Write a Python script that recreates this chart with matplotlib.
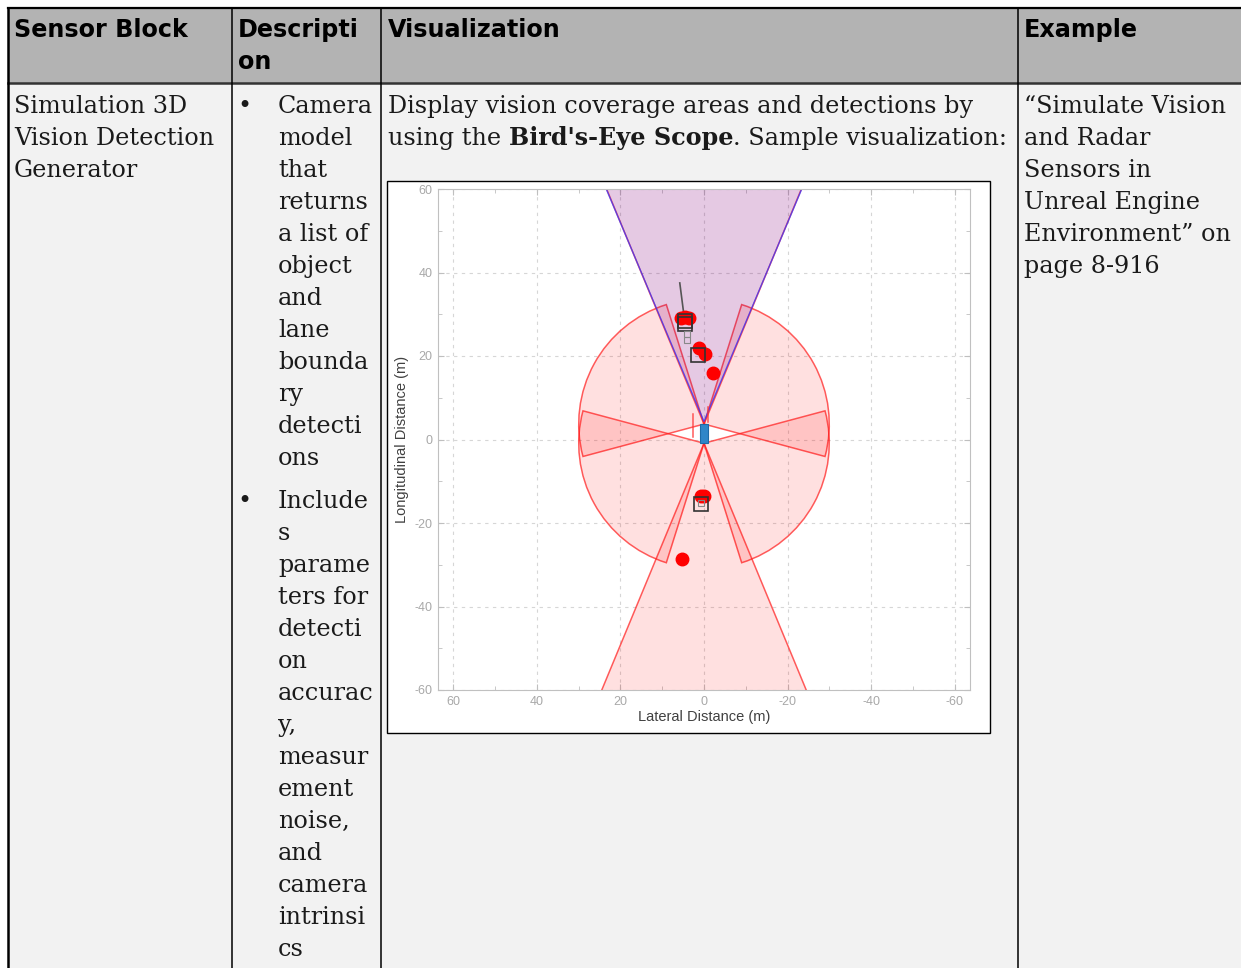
import matplotlib.pyplot as plt
from matplotlib.patches import Rectangle, Wedge

plt.rcParams['axes.unicode_minus'] = False

W, H = 1241, 968

# table texts
headers = ["Sensor Block", "Descripti\non", "Visualization", "Example"]
block_lines = ["Simulation 3D", "Vision Detection", "Generator"]
bullet1 = ["Camera", "model", "that", "returns", "a list of", "object", "and", "lane",
           "bounda", "ry", "detecti", "ons"]
bullet2 = ["Include", "s", "parame", "ters for", "detecti", "on", "accurac", "y,",
           "measur", "ement", "noise,", "and", "camera", "intrinsi", "cs"]
vis_line1 = "Display vision coverage areas and detections by"
vis_line2 = ["using the", "Bird's-Eye Scope", ". Sample visualization:"]
example_lines = ["\u201cSimulate Vision", "and Radar", "Sensors in", "Unreal Engine",
                 "Environment\u201d on", "page 8-916"]

# bird's-eye coverage areas (x = lateral, + to the left; y = longitudinal)
radar_x = [0, 0, 0, 0, 0, 0]
radar_y = [3.7, 3.7, -0.9, -0.9, 3.7, -0.9]
radar_range = [30, 30, 30, 30, 150, 150]
radar_start = [-15, 107.5, -72.5, 165, 67.5, 247.5]
radar_end = [72.5, 195, 15, 252.5, 112.5, 292.5]
cam_pos = (0, 4.3)
cam_range = 150
cam_fov = (67.2, 112.8)

# detections and objects
det_x = [5.6, 4.6, 3.5, 1.2, -0.3, -2.1, 0.6, -0.1, 5.3]
det_y = [29.1, 29.3, 29.1, 21.8, 20.4, 15.9, -13.6, -13.6, -28.6]
obj_x = [4.6, 4.6, 1.4, 0.6]
obj_y = [28.4, 27.6, 20.3, -15.5]
trail_x = [4.0, 4.0, 0.6]
trail_y = [25.2, 23.9, -15.1]
heading_x = [5.8, 4.6]
heading_y = [37.5, 28.2]
marks_x = [[2.6, 2.6], [-1.0, -1.0]]
marks_y = [[6.0, 0.5], [7.7, 4.1]]
car = (-0.9, -0.9, 1.8, 4.7)  # x, y, width, length

fig = plt.figure(figsize=(W / 100, H / 100), dpi=100)
bg = fig.add_axes([0, 0, 1, 1])
bg.set_xlim(0, W)
bg.set_ylim(H, 0)
bg.axis('off')

# table
bg.add_patch(Rectangle((8, 8), W - 8, 75, fc='#b3b3b3', ec='none'))
bg.add_patch(Rectangle((8, 83), W - 8, H - 83, fc='#f2f2f2', ec='none'))
bg.plot([8, W], [8, 8], color='black', lw=1.6)
bg.plot([8, W], [83, 83], color='#333333', lw=1.8)
bg.plot([8, 8], [8, H], color='black', lw=1.8)
for cx in [232, 381, 1018]:
    bg.plot([cx, cx], [8, H], color='black', lw=1.1)

hfont = dict(family='DejaVu Sans', fontweight='bold', fontsize=17.2, color='black', va='baseline')
bg.text(14, 37, headers[0], **hfont)
bg.text(238, 37, headers[1].split('\n')[0], **hfont)
bg.text(238, 69, headers[1].split('\n')[1], **hfont)
bg.text(388, 37, headers[2], **hfont)
bg.text(1024, 37, headers[3], **hfont)

bsize = 17.2
bfont = dict(family='DejaVu Serif', fontsize=bsize, color='#1a1a1a', va='baseline')
for i, s in enumerate(block_lines):
    bg.text(14, 113 + 32 * i, s, **bfont)
bg.text(237, 113, '\u2022', **bfont)
for i, s in enumerate(bullet1):
    bg.text(278, 113 + 32 * i, s, **bfont)
bg.text(237, 508, '\u2022', **bfont)
for i, s in enumerate(bullet2):
    bg.text(278, 508 + 32 * i, s, **bfont)
for i, s in enumerate(example_lines):
    bg.text(1024, 113 + 32 * i, s, **bfont)

bg.text(388, 113, vis_line1, **bfont)
r = fig.canvas.get_renderer()
x = 388
space = bsize * 100 / 72 * 0.318
for i, part in enumerate(vis_line2):
    t = bg.text(x, 145, part, fontweight='bold' if i == 1 else 'normal', **bfont)
    x = t.get_window_extent(r).x1 + (space if i == 0 else 0)

# embedded scope picture frame
bg.add_patch(Rectangle((387, 181), 603, 552, fc='white', ec='black', lw=1))

ax = fig.add_axes([438 / W, (H - 690) / H, 532 / W, 501 / H])
for cx, cy, rr, a0, a1 in zip(radar_x, radar_y, radar_range, radar_start, radar_end):
    ax.add_patch(Wedge((cx, cy), rr, a0, a1, fc=(1, 0, 0, 0.12), ec=(1, 0.1, 0.1, 0.7), lw=1.1))
ax.add_patch(Wedge(cam_pos, cam_range, cam_fov[0], cam_fov[1], fc=(0, 0, 1, 0.1),
                   ec=(0.2, 0.2, 1, 0.75), lw=1.0))
for mx, my in zip(marks_x, marks_y):
    ax.plot(mx, my, color=(1, 0.2, 0.2, 0.8), lw=1.1)
ax.add_patch(Rectangle(car[:2], car[2], car[3], fc='#2f86c8', ec='#1f6aa5', lw=0.8, zorder=3))
ax.plot(heading_x, heading_y, color='#555555', lw=1.2, zorder=3)
ax.plot(det_x, det_y, 'o', color='#ff0000', ms=9, mec='#ff0000', zorder=4)
ax.plot(obj_x, obj_y, 's', mfc='none', mec='#333333', ms=10, mew=1.2, zorder=5)
ax.plot(trail_x, trail_y, 's', mfc='none', mec='#888888', ms=4, mew=0.8, zorder=5)

ax.set_xlim(63.7, -63.7)
ax.set_ylim(-60, 60)
ticks = [-60, -40, -20, 0, 20, 40, 60]
ax.set_xticks(ticks)
ax.set_yticks(ticks)
ax.set_xticks(range(-60, 61, 10), minor=True)
ax.set_yticks(range(-60, 61, 10), minor=True)
ax.tick_params(which='both', direction='in', top=True, right=True, color='#bfbfbf',
               labelcolor='#a8a8a8', labelsize=9, pad=4)
ax.tick_params(which='major', length=4)
ax.tick_params(which='minor', length=3)
for lab in ax.get_xticklabels() + ax.get_yticklabels():
    lab.set_family('Liberation Sans')
ax.grid(True, which='major', linestyle=(0, (3, 4)), color='#d6d6d6', lw=0.8)
ax.set_axisbelow(True)
for sp in ax.spines.values():
    sp.set_color('#c0c0c0')
    sp.set_linewidth(0.8)
ax.set_xlabel('Lateral Distance (m)', family='Liberation Sans', fontsize=10.5, color='#404040', labelpad=2)
ax.set_ylabel('Longitudinal Distance (m)', family='Liberation Sans', fontsize=10.5, color='#404040', labelpad=4)

fig.savefig('out.png', dpi=100)
